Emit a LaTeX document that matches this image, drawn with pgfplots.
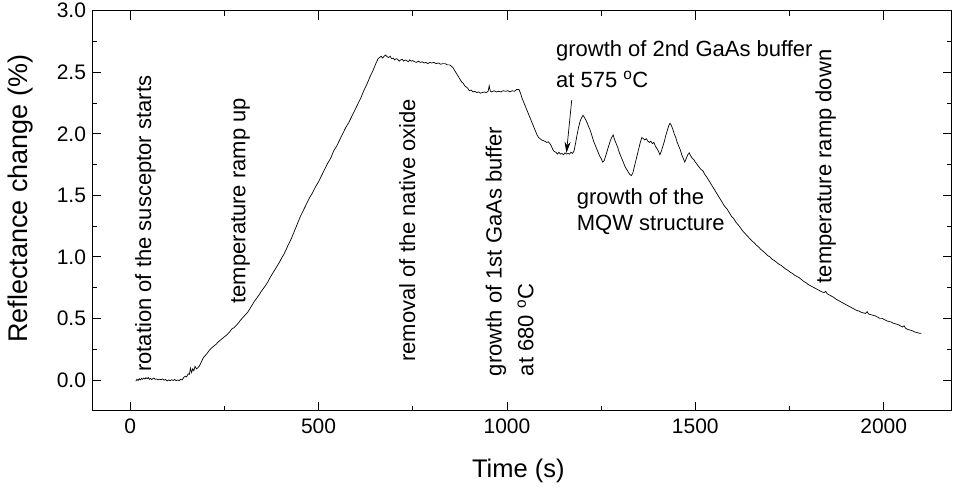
\documentclass[border=0pt]{standalone}
\usepackage{pgfplots}
\pgfplotsset{compat=1.18}
\usepackage{fontspec}
\setmainfont{Liberation Sans}
\usetikzlibrary{arrows.meta}
\begin{document}
\begin{tikzpicture}
\begin{axis}[
  scale only axis, width=859bp, height=400bp,
  xmin=-100, xmax=2180, ymin=-0.25, ymax=3.0,
  xtick={0,500,1000,1500,2000},
  ytick={0,0.5,1,1.5,2,2.5,3},
  minor x tick num=1, minor y tick num=1,
  tick align=inside, major tick length=9bp, minor tick length=5bp,
  every tick/.style={black, line width=0.8bp},
  axis line style={line width=1.2bp},
  tick label style={font=\fontsize{21bp}{21bp}\selectfont},
  /pgf/number format/assume math mode=true,
  yticklabel style={/pgf/number format/fixed, /pgf/number format/fixed zerofill, /pgf/number format/precision=1, xshift=-3bp},
  xticklabel style={/pgf/number format/1000 sep={}, yshift=-5bp},
  clip=false,
]
\addplot[black, line width=0.7bp] coordinates {
(15,-0.01)(18,0.005)(21,-0.005)(24,0.01)(27,0.0)(30,0.012)(33,0.005)(36,0.015)(39,0.008)(42,0.018)(45,0.01)(48,0.02)(51,0.005)(54,0.012)(57,0.003)(60,0.01)(63,0.015)(66,0.005)(70,0.008)(74,0.0)(78,0.006)(82,0.002)(86,0.008)(90,-0.002)(94,0.003)(98,-0.008)(102,0.0)(106,-0.006)(110,0.002)(114,-0.005)(118,0.004)(122,-0.007)(126,0.0)(130,-0.006)(134,0.005)(138,0.0)(142,0.02)(146,0.03)(150,0.025)(154,0.05)(157,0.045)(160,0.095)(163,0.06)(166,0.09)(169,0.075)(172,0.11)(176,0.09)(180,0.1)(184,0.115)(188,0.14)(191,0.16)(195,0.185)(200,0.2)(204,0.215)(210,0.24)(216,0.26)(222,0.275)(228,0.29)(234,0.31)(240,0.325)(246,0.34)(252,0.355)(258,0.37)(264,0.39)(270,0.415)(276,0.425)(282,0.445)(288,0.465)(294,0.49)(300,0.51)(306,0.53)(312,0.55)(318,0.58)(324,0.61)(330,0.64)(336,0.665)(342,0.69)(348,0.72)(354,0.745)(360,0.77)(366,0.8)(372,0.835)(378,0.865)(384,0.895)(390,0.925)(396,0.955)(402,0.99)(408,1.02)(414,1.06)(420,1.1)(428,1.15)(436,1.21)(444,1.27)(452,1.33)(460,1.38)(468,1.43)(476,1.48)(484,1.52)(492,1.57)(500,1.61)(508,1.66)(516,1.71)(524,1.76)(532,1.8)(540,1.86)(548,1.9)(556,1.95)(564,2.0)(572,2.05)(580,2.09)(588,2.14)(596,2.19)(604,2.24)(612,2.29)(620,2.35)(628,2.4)(636,2.46)(644,2.51)(652,2.57)(658,2.61)(662,2.62)(666,2.63)(670,2.615)(674,2.63)(678,2.64)(682,2.625)(686,2.62)(690,2.63)(694,2.61)(698,2.615)(702,2.6)(706,2.61)(710,2.605)(714,2.59)(718,2.6)(722,2.605)(726,2.59)(730,2.6)(734,2.595)(738,2.585)(742,2.6)(746,2.59)(750,2.595)(755,2.585)(760,2.58)(765,2.59)(770,2.58)(775,2.585)(780,2.575)(785,2.58)(790,2.57)(795,2.58)(800,2.575)(806,2.58)(812,2.57)(818,2.575)(824,2.565)(830,2.57)(836,2.57)(842,2.56)(848,2.56)(852,2.55)(856,2.54)(860,2.52)(864,2.5)(868,2.48)(872,2.46)(876,2.44)(880,2.42)(884,2.41)(888,2.39)(892,2.38)(896,2.37)(900,2.35)(905,2.355)(910,2.34)(915,2.345)(920,2.335)(925,2.34)(930,2.33)(935,2.335)(940,2.34)(945,2.335)(950,2.345)(953,2.39)(956,2.345)(960,2.34)(966,2.35)(972,2.34)(978,2.345)(984,2.34)(990,2.35)(996,2.345)(1002,2.35)(1008,2.34)(1014,2.35)(1020,2.345)(1026,2.36)(1032,2.36)(1036,2.33)(1040,2.29)(1044,2.26)(1048,2.23)(1052,2.2)(1056,2.17)(1060,2.14)(1064,2.11)(1068,2.08)(1072,2.05)(1076,2.02)(1080,1.99)(1084,1.97)(1088,1.96)(1092,1.95)(1096,1.945)(1100,1.94)(1105,1.93)(1110,1.935)(1114,1.92)(1118,1.9)(1122,1.87)(1126,1.855)(1130,1.85)(1134,1.835)(1138,1.85)(1142,1.835)(1146,1.84)(1150,1.83)(1154,1.845)(1158,1.835)(1162,1.84)(1166,1.835)(1170,1.85)(1174,1.84)(1178,1.86)(1182,1.92)(1186,1.99)(1190,2.05)(1194,2.1)(1198,2.13)(1202,2.15)(1206,2.13)(1210,2.11)(1214,2.08)(1218,2.05)(1222,2.02)(1226,1.98)(1230,1.94)(1234,1.91)(1238,1.88)(1242,1.85)(1246,1.82)(1250,1.8)(1254,1.77)(1258,1.78)(1262,1.82)(1266,1.86)(1270,1.9)(1274,1.94)(1278,1.97)(1282,1.99)(1286,1.95)(1290,1.92)(1294,1.89)(1298,1.85)(1302,1.82)(1306,1.79)(1310,1.76)(1314,1.73)(1318,1.71)(1322,1.69)(1326,1.67)(1330,1.66)(1334,1.68)(1338,1.73)(1342,1.78)(1346,1.83)(1350,1.88)(1354,1.93)(1358,1.97)(1362,1.96)(1366,1.95)(1370,1.96)(1374,1.94)(1378,1.93)(1382,1.94)(1386,1.92)(1390,1.93)(1394,1.9)(1398,1.88)(1402,1.86)(1406,1.83)(1410,1.86)(1414,1.9)(1418,1.94)(1422,1.99)(1426,2.03)(1430,2.07)(1433,2.085)(1436,2.07)(1440,2.04)(1444,2.0)(1448,1.97)(1452,1.93)(1456,1.9)(1460,1.87)(1464,1.83)(1468,1.8)(1472,1.77)(1476,1.8)(1480,1.83)(1484,1.845)(1488,1.82)(1492,1.8)(1496,1.79)(1500,1.77)(1505,1.75)(1510,1.73)(1515,1.71)(1520,1.7)(1525,1.67)(1530,1.65)(1536,1.62)(1542,1.59)(1548,1.56)(1554,1.53)(1560,1.5)(1566,1.47)(1572,1.44)(1578,1.41)(1584,1.39)(1590,1.36)(1596,1.33)(1602,1.31)(1608,1.28)(1614,1.26)(1620,1.235)(1626,1.21)(1632,1.19)(1638,1.17)(1644,1.15)(1650,1.13)(1656,1.115)(1662,1.095)(1668,1.08)(1674,1.06)(1680,1.045)(1686,1.03)(1692,1.01)(1698,1.0)(1704,0.98)(1710,0.97)(1716,0.955)(1722,0.94)(1728,0.93)(1734,0.915)(1740,0.9)(1746,0.89)(1752,0.875)(1758,0.865)(1764,0.85)(1770,0.84)(1776,0.83)(1782,0.815)(1788,0.8)(1794,0.79)(1800,0.775)(1806,0.765)(1812,0.755)(1818,0.745)(1824,0.735)(1830,0.725)(1836,0.715)(1842,0.71)(1846,0.72)(1850,0.7)(1856,0.69)(1862,0.68)(1868,0.67)(1874,0.655)(1880,0.645)(1886,0.635)(1892,0.625)(1898,0.615)(1904,0.605)(1910,0.595)(1916,0.585)(1922,0.575)(1928,0.565)(1934,0.56)(1940,0.55)(1946,0.545)(1952,0.54)(1956,0.555)(1960,0.535)(1966,0.53)(1972,0.525)(1978,0.52)(1984,0.51)(1990,0.5)(1996,0.5)(2002,0.49)(2008,0.48)(2014,0.475)(2020,0.47)(2026,0.46)(2032,0.455)(2038,0.45)(2044,0.44)(2050,0.43)(2054,0.44)(2058,0.42)(2064,0.41)(2070,0.405)(2076,0.4)(2082,0.39)(2088,0.385)(2094,0.38)(2100,0.38)
};
\draw[-{Stealth[length=11bp,width=6bp]}, line width=0.7bp] (axis cs:1172,2.274) -- (axis cs:1158,1.845);
\begin{scope}[every node/.style={font=\fontsize{22bp}{22bp}\selectfont, inner sep=0pt}]
\node[rotate=90, anchor=base west] at (axis cs:55.7,0.065) {rotation of the susceptor starts};
\node[rotate=90, anchor=base west] at (axis cs:305.7,0.62) {temperature ramp up};
\node[rotate=90, anchor=base west] at (axis cs:756,0.146) {removal of the native oxide};
\node[rotate=90, anchor=base west] at (axis cs:986,0.03) {growth of 1st GaAs buffer};
\node[rotate=90, anchor=base west] at (axis cs:1070,0.03) {at 680 \textsuperscript{o}C};
\node[rotate=90, anchor=base west] at (axis cs:1861,0.784) {temperature ramp down};
\node[anchor=base west] at (axis cs:1130,2.63) {growth of 2nd GaAs buffer};
\node[anchor=base west] at (axis cs:1130,2.38) {at 575 \textsuperscript{o}C};
\node[anchor=base west] at (axis cs:1185,1.428) {growth of the};
\node[anchor=base west] at (axis cs:1185,1.217) {MQW structure};
\end{scope}
\end{axis}
\node[rotate=90, anchor=base, font=\fontsize{27bp}{27bp}\selectfont, inner sep=0pt] at ([shift={(-64.9bp,212bp)}]current axis.south west) {Reflectance change (\%)};
\node[anchor=base, font=\fontsize{25.5bp}{25.5bp}\selectfont, inner sep=0pt] at ([shift={(425.8bp,-66.7bp)}]current axis.south west) {Time (s)};
\pgfresetboundingbox
\path[use as bounding box] ([shift={(-92.5bp,-80bp)}]current axis.south west) rectangle ([shift={(1.5bp,10.7bp)}]current axis.north east);
\end{tikzpicture}
\end{document}
